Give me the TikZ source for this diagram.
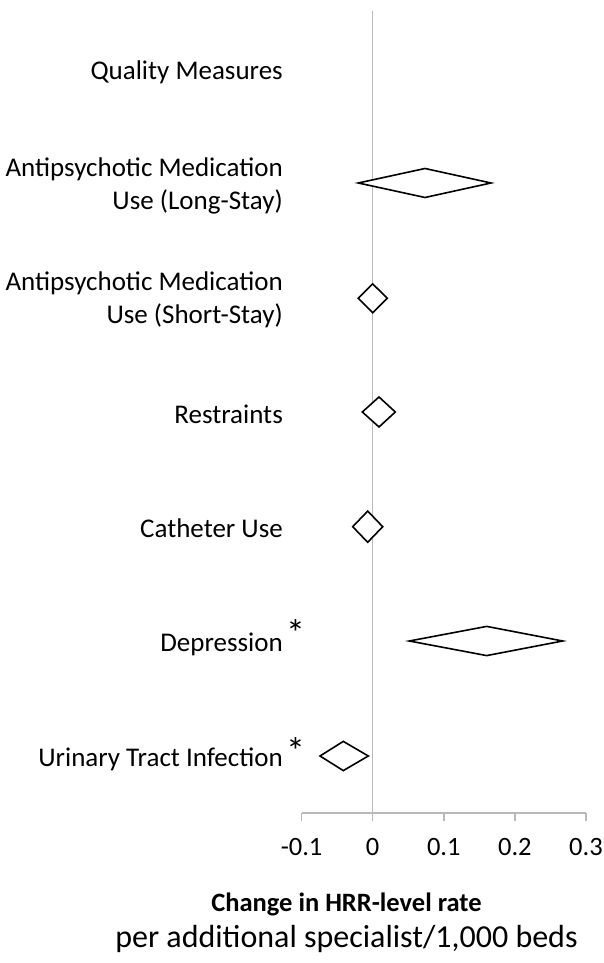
\documentclass[tikz,border=0pt]{standalone}
\usepackage{fontspec}
\setmainfont{Carlito}
\definecolor{axisgray}{RGB}{185,185,185}
\tikzset{
  lbl/.style={anchor=base east, inner sep=0pt, align=right, font=\fontsize{27}{33}\selectfont},
  ticklbl/.style={anchor=base, inner sep=0pt, font=\fontsize{26.5}{32}\selectfont},
  star/.style={inner sep=0pt, font=\fontsize{38}{44}\selectfont},
  diam/.style={draw=black, line width=1.6pt, line join=miter, fill=white},
  axisline/.style={draw=axisgray, line width=1.4pt},
}
\newcommand\mydiamond[6]{% name, cx, cy, left, right, halfh
  \coordinate (#1) at (#2,#3);
  \draw[diam] (#4,#3) -- (#2,#3+#6) -- (#5,#3) -- (#2,#3-#6) -- cycle;
}
\begin{document}
\begin{tikzpicture}[x=1pt,y=1pt]
\useasboundingbox (0,0) rectangle (603,963);
% axes
\coordinate (top) at (372.7,952);
\coordinate (zero) at (372.7,150);
\coordinate (axl) at (301.6,150);
\coordinate (axr) at (586.0,150);
\draw[axisline] (top) -- (zero);
\draw[axisline] (axl) -- (axr);
\foreach \x/\t [count=\i] in {301.6/-0.1, 372.7/0, 443.8/0.1, 514.9/0.2, 586.0/0.3}{
  \draw[axisline] (\x,150) -- (\x,142.3);
  \node[ticklbl] (tick\i) at (\x,107.3) {\t};
}
% labels
\node[lbl] (qm) at (283,883.7) {Quality Measures};
\node[lbl] (ls) at (283,753) {Antipsychotic Medication\\Use (Long-Stay)};
\node[lbl] (ss) at (283,639.7) {Antipsychotic Medication\\Use (Short-Stay)};
\node[lbl] (res) at (283,539.7) {Restraints};
\node[lbl] (cat) at (283,425.3) {Catheter Use};
\node[lbl] (dep) at (283,311.3) {Depression};
\node[lbl] (uti) at (283,196.3) {Urinary Tract Infection};
\node[star] (s1) at (295.5,330) {*};
\node[star] (s2) at (295.5,211.5) {*};
% diamonds
\mydiamond{dls}{425}{780}{358.3}{491}{14.5}
\mydiamond{dss}{372.7}{664.7}{358.3}{387.3}{14.4}
\mydiamond{dres}{379}{551}{362.3}{395.3}{15}
\mydiamond{dcat}{367.7}{436.3}{352.7}{382.7}{15.6}
\mydiamond{ddep}{486.7}{322}{409.3}{562.7}{14.6}
\mydiamond{duti}{343.3}{207}{320}{368.3}{14.6}
% axis title
\node[anchor=base, inner sep=0pt, font=\fontsize{26.5}{32}\selectfont\bfseries] (t1) at (346.5,51) {Change in HRR-level rate};
\node[anchor=base, inner sep=0pt, font=\fontsize{32}{38}\selectfont] (t2) at (346.5,15) {per additional specialist/1,000 beds};
\end{tikzpicture}
\end{document}
